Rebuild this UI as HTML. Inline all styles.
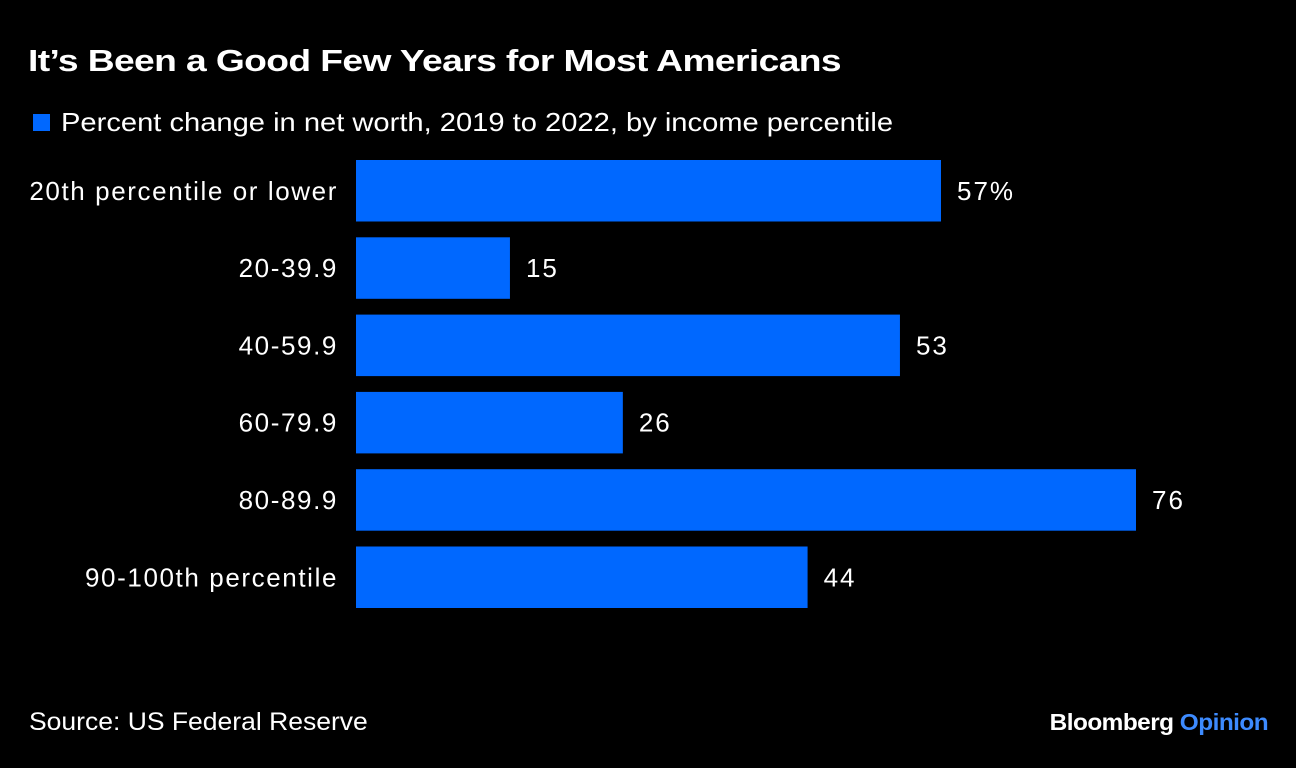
<!DOCTYPE html>
<html><head><meta charset="utf-8"><style>
body{margin:0;background:#000;width:1296px;height:768px;overflow:hidden;font-family:"Liberation Sans",sans-serif;color:#fff;position:relative}
.t{position:absolute;white-space:nowrap}
</style></head><body>
<div class="t" style="left:28px;top:43px;font-size:31px;font-weight:bold;letter-spacing:-0.5px;transform:scaleX(1.2);transform-origin:left">It’s Been a Good Few Years for Most Americans</div>
<div class="t" style="left:33px;top:114px;width:17px;height:17px;background:#0068ff"></div>
<div class="t" style="left:61px;top:107px;font-size:26px;transform:scaleX(1.12);transform-origin:left">Percent change in net worth, 2019 to 2022, by income percentile</div>
<svg id="chart" width="1296" height="768" style="position:absolute;left:0;top:0"></svg>
<div class="t" style="left:29px;top:708px;font-size:25px;transform:scaleX(1.06);transform-origin:left">Source: US Federal Reserve</div>
<div class="t" style="right:28px;top:709px;font-size:23px;font-weight:bold;letter-spacing:-0.5px;transform:scaleX(1.06);transform-origin:right">Bloomberg <span style="color:#3d8bff">Opinion</span></div>
<script>
const categories=["20th percentile or lower","20-39.9","40-59.9","60-79.9","80-89.9","90-100th percentile"];
const values=[57,15,53,26,76,44];
const valueLabels=["57%","15","53","26","76","44"];
const svg=document.getElementById('chart');
const NS='http://www.w3.org/2000/svg';
const x0=356,scale=(1136-356)/76;
const xs=v=>x0+v*scale;
const y=i=>160+i*77.3;
const bh=61.5;
categories.forEach((c,i)=>{
  const r=document.createElementNS(NS,'rect');
  r.setAttribute('x',x0);r.setAttribute('y',y(i));
  r.setAttribute('width',xs(values[i])-x0);r.setAttribute('height',bh);
  r.setAttribute('fill','#0068ff');
  
  
  svg.appendChild(r);
  const l=document.createElementNS(NS,'text');
  l.setAttribute('x',338);l.setAttribute('y',y(i)+bh/2+9);
  l.setAttribute('text-anchor','end');l.setAttribute('fill','#fff');
  l.setAttribute('font-size','26');l.setAttribute('letter-spacing','1.6');
  l.setAttribute('font-family','Liberation Sans, sans-serif');
  l.textContent=c;
  
  
  svg.appendChild(l);
  const v=document.createElementNS(NS,'text');
  v.setAttribute('x',xs(values[i])+16);v.setAttribute('y',y(i)+bh/2+9);
  v.setAttribute('fill','#fff');
  v.setAttribute('font-size','26');v.setAttribute('letter-spacing','2');
  v.setAttribute('font-family','Liberation Sans, sans-serif');
  v.textContent=valueLabels[i];
  
  
  svg.appendChild(v);
});
</script>
</body></html>
